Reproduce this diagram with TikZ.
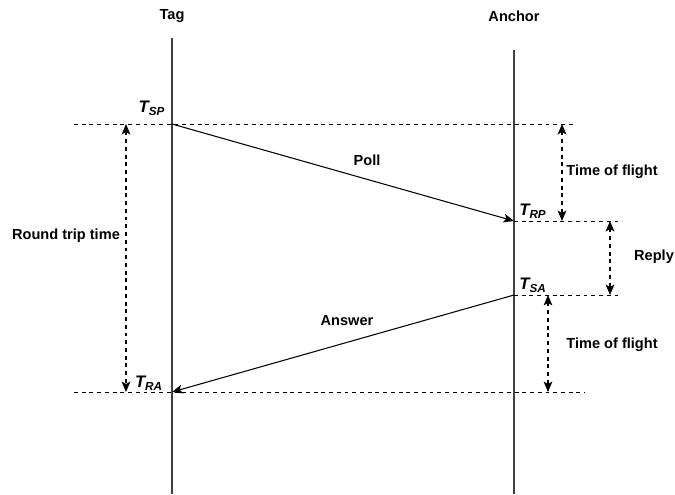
\documentclass[tikz,border=0pt]{standalone}
\usepackage{fontspec}
\setmainfont{Liberation Sans}
\usetikzlibrary{arrows.meta}
\begin{document}
\begin{tikzpicture}[x=0.02cm,y=-0.02cm,
  lbl/.style={font=\fontsize{8.3}{10}\selectfont\bfseries, inner sep=0pt},
  ts/.style={font=\fontsize{9.5}{11}\selectfont\bfseries\itshape, inner sep=0pt},
  lifeline/.style={draw=black!75, line width=0.7pt},
  guide/.style={draw=black, line width=0.5pt, dash pattern=on 2.2pt off 2.2pt},
  msg/.style={draw=black, line width=0.6pt, -{Stealth[length=6pt,width=5pt,inset=1.5pt]}},
  span/.style={draw=black, line width=0.6pt, dash pattern=on 2.2pt off 2.2pt, {Stealth[length=6pt,width=5pt,inset=1.5pt]}-{Stealth[length=6pt,width=5pt,inset=1.5pt]}}]
\useasboundingbox (0,0) rectangle (675,494);
% lifelines
\coordinate (tagtop) at (172,38);
\coordinate (tagbot) at (172,494);
\coordinate (anctop) at (514,50);
\coordinate (ancbot) at (514,494);
\node[lbl] (tag) at (172,16) {Tag};
\node[lbl] (anchor) at (514,16) {Anchor};
\draw[lifeline] (tagtop) -- (tagbot);
\draw[lifeline] (anctop) -- (ancbot);
% event points
\coordinate (sp) at (172,124);
\coordinate (rp) at (514,221);
\coordinate (sa) at (514,295);
\coordinate (ra) at (172,392);
% guide lines
\coordinate (g1a) at (74,124);  \coordinate (g1b) at (575,124);
\coordinate (g2a) at (514,221); \coordinate (g2b) at (621,221);
\coordinate (g3a) at (514,295); \coordinate (g3b) at (621,295);
\coordinate (g4a) at (74,392);  \coordinate (g4b) at (585,392);
\draw[guide] (g1a) -- (g1b);
\draw[guide] (g2a) -- (g2b);
\draw[guide] (g3a) -- (g3b);
\draw[guide] (g4a) -- (g4b);
% messages
\draw[msg] (sp) -- (rp);
\draw[msg] (sa) -- (ra);
\node[lbl] (poll) at (367,160) {Poll};
\node[lbl] (answer) at (347,321) {Answer};
% spans
\coordinate (rt1) at (126,124); \coordinate (rt2) at (126,392);
\coordinate (tf1) at (562,124); \coordinate (tf2) at (562,221);
\coordinate (rp1) at (610,221); \coordinate (rp2) at (610,295);
\coordinate (tf3) at (548,295); \coordinate (tf4) at (548,392);
\draw[span] (rt1) -- (rt2);
\draw[span] (tf1) -- (tf2);
\draw[span] (rp1) -- (rp2);
\draw[span] (tf3) -- (tf4);
\node[lbl] (rtt) at (66,236) {Round trip time};
\node[lbl] (tof1) at (612,172) {Time of flight};
\node[lbl] (reply) at (654,257) {Reply};
\node[lbl] (tof2) at (612,345) {Time of flight};
% timestamps
\node[ts] (tsp) at (152,108) {T\textsubscript{SP}};
\node[ts] (trp) at (533,211) {T\textsubscript{RP}};
\node[ts] (tsa) at (533,285) {T\textsubscript{SA}};
\node[ts] (tra) at (149,383) {T\textsubscript{RA}};
\end{tikzpicture}
\end{document}
